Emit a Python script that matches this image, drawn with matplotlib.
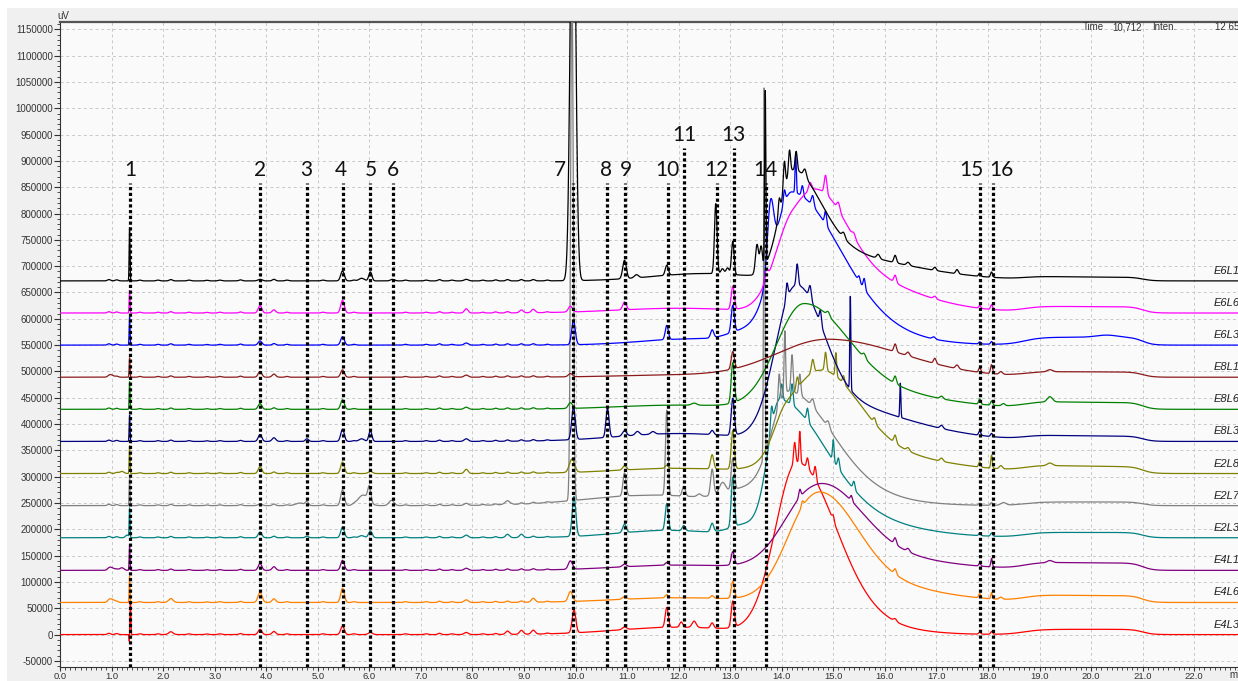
import numpy as np
import matplotlib.pyplot as plt
from matplotlib.patches import Rectangle
from matplotlib.ticker import MultipleLocator, FuncFormatter

# ---- chart data ----
names = ['E6L1', 'E6L6', 'E6L3', 'E8L1', 'E8L6', 'E8L3',
         'E2L8', 'E2L7', 'E2L3', 'E4L1', 'E4L6', 'E4L3']
colors = ['#000000', '#ff00ff', '#0000ff', '#8b1a1a', '#008000', '#000080',
          '#808000', '#808080', '#008080', '#800080', '#ff8000', '#ff0000']
offsets = [672000, 611000, 550000, 489000, 428000, 367000,
           306000, 245000, 184000, 122000, 61000, 0]

# broad hump after 13.6 min: (centre, height, sigma left, sigma right)
hump_fast = [(14.2, 150000, 0.25, 0.55), (14.7, 120000, 0.5, 0.55),
             (14.2, 200000, 0.3, 0.9), (14.9, 72000, 1.0, 1.45),
             (14.45, 140000, 0.55, 0.8), (14.3, 205000, 0.4, 0.5),
             (14.8, 130000, 0.6, 0.7), (14.15, 150000, 0.3, 0.8),
             (13.95, 190000, 0.22, 0.85), (14.8, 120000, 0.65, 0.75),
             (14.75, 150000, 0.55, 0.7), (14.3, 265000, 0.42, 0.72)]
hump_slow = [(14.3, 60000, 0.3, 1.8), (14.2, 120000, 0.35, 1.6),
             (14.0, 90000, 0.35, 1.4), (14.9, 0, 1.0, 1.0),
             (14.4, 60000, 0.5, 1.8), (14.2, 90000, 0.35, 1.8),
             (14.1, 70000, 0.25, 2.0), (14.0, 65000, 0.35, 1.3),
             (14.0, 70000, 0.25, 1.6), (14.5, 45000, 0.5, 1.8),
             (14.5, 60000, 0.5, 1.7), (14.3, 60000, 0.45, 1.2)]
# low plateau between ~19 and ~21 min
late_level = [7000, 12000, 15000, 10000, 13000, 10000,
              13000, 7000, 10000, 14000, 13000, 10000]

# tiny baseline bumps seen on most traces: time, height
ripple_times = [0.95, 1.1, 1.55, 1.9, 2.15, 2.5, 2.85, 3.1, 3.5, 4.15, 4.4,
                5.1, 5.7, 6.7, 7.1, 7.36, 7.6, 8.2, 8.45, 8.68, 8.95, 9.18, 9.45]
ripple_heights = [2500, 2000, 1500, 1500, 2500, 1500, 1200, 1500, 2000, 3000, 1500,
                  1500, 1500, 1500, 1500, 2500, 1500, 1500, 2000, 2500, 2500, 2500, 1500]

# peaks: (time, height, sigma)
peaks_E6L1 = [(1.35, 104000, 0.008), (3.88, 3000, 0.04), (5.48, 19000, 0.035),
              (5.85, 5000, 0.05), (6.02, 17000, 0.03), (6.45, 3000, 0.04),
              (7.88, 3000, 0.04), (9.95, 900000, 0.05), (12.5, 14000, 1.0),
              (10.95, 35000, 0.035), (11.18, 6000, 0.04), (11.77, 19000, 0.03),
              (12.72, 133000, 0.025), (12.85, 10000, 0.03), (12.95, 12000, 0.03),
              (13.05, 63000, 0.025), (13.52, 55000, 0.03), (13.6, 45000, 0.025),
              (13.68, 330000, 0.012), (13.95, 30000, 0.02), (14.05, 55000, 0.02),
              (14.15, 45000, 0.02), (14.28, 35000, 0.02), (14.45, 15000, 0.03),
              (15.2, 10000, 0.03), (15.87, 8000, 0.03), (16.2, 14000, 0.025),
              (16.45, 6000, 0.03), (16.97, 6000, 0.025), (17.4, 8000, 0.025),
              (17.84, 6000, 0.02), (18.07, 10000, 0.02)]
peaks_E6L6 = [(1.35, 44000, 0.008), (3.88, 14000, 0.035), (4.15, 3000, 0.04),
              (5.48, 24000, 0.035), (7.88, 8000, 0.035), (8.95, 3000, 0.04),
              (9.18, 4000, 0.04), (9.9, 11000, 0.04), (12.0, 9000, 1.2),
              (10.95, 15000, 0.035), (13.05, 44000, 0.03), (13.7, 20000, 0.03),
              (14.55, 15000, 0.03), (14.85, 35000, 0.025), (15.1, 15000, 0.03),
              (15.4, 8000, 0.03), (16.2, 14000, 0.025), (16.97, 5000, 0.03),
              (17.84, 5000, 0.02), (18.07, 9000, 0.02)]
peaks_E6L3 = [(1.35, 55000, 0.008), (3.88, 8000, 0.035), (5.48, 16000, 0.035),
              (7.88, 4000, 0.04), (9.96, 46000, 0.035), (12.3, 12000, 1.0),
              (13.2, 15000, 0.3), (11.77, 27000, 0.03), (12.65, 15000, 0.03),
              (13.05, 51000, 0.03), (13.78, 120000, 0.06), (14.05, 25000, 0.02),
              (14.27, 75000, 0.012), (14.4, 20000, 0.02), (14.6, 20000, 0.025),
              (14.85, 25000, 0.02), (15.5, 10000, 0.02), (15.6, 20000, 0.02),
              (16.95, 4000, 0.03), (17.84, 4000, 0.02), (18.07, 5000, 0.02),
              (20.3, 4000, 0.2)]
peaks_E8L1 = [(1.0, 4000, 0.04), (1.35, 38000, 0.008), (3.88, 11000, 0.035),
              (4.15, 3000, 0.04), (5.48, 14000, 0.035), (7.88, 4000, 0.04),
              (9.9, 6000, 0.04), (12.0, 4000, 1.2), (13.05, 33000, 0.03),
              (16.2, 15000, 0.025), (16.45, 7000, 0.03), (16.97, 10000, 0.025),
              (17.4, 7000, 0.03), (17.84, 9000, 0.02), (18.07, 17000, 0.02),
              (18.25, 5000, 0.03), (19.2, 4000, 0.05)]
peaks_E8L6 = [(1.35, 54000, 0.008), (3.88, 11000, 0.035), (5.48, 18000, 0.035),
              (7.88, 4000, 0.04), (9.9, 11000, 0.04), (12.0, 8000, 1.2),
              (12.3, 4000, 0.05), (13.05, 76000, 0.03), (14.9, 8000, 0.03),
              (15.6, 8000, 0.03), (16.2, 14000, 0.025), (17.1, 5000, 0.03),
              (17.84, 10000, 0.02), (18.07, 8000, 0.02), (18.3, 4000, 0.03),
              (19.2, 10000, 0.05)]
peaks_E8L3 = [(1.35, 51000, 0.008), (3.88, 13000, 0.035), (4.15, 4000, 0.04),
              (4.79, 5000, 0.03), (5.48, 23000, 0.035), (5.85, 5000, 0.05),
              (6.02, 20000, 0.03), (7.88, 5000, 0.04),
              (9.96, 61000, 0.035), (12.0, 15000, 1.2), (10.62, 55000, 0.03),
              (10.95, 10000, 0.04), (11.2, 7000, 0.04), (11.5, 5000, 0.04),
              (12.65, 8000, 0.03), (13.05, 70000, 0.03), (14.1, 30000, 0.02),
              (14.3, 40000, 0.02), (14.55, 25000, 0.025), (14.75, 25000, 0.02),
              (15.33, 180000, 0.01), (16.3, 65000, 0.01), (17.1, 6000, 0.03),
              (17.84, 8000, 0.02), (18.07, 6000, 0.02)]
peaks_E2L8 = [(1.2, 4000, 0.04), (1.35, 54000, 0.008), (3.88, 13000, 0.035),
              (5.48, 22000, 0.035), (6.02, 4000, 0.04),
              (7.88, 8000, 0.035), (9.93, 25000, 0.05), (12.0, 10000, 1.2),
              (10.95, 8000, 0.035), (11.77, 6000, 0.03), (12.65, 27000, 0.03),
              (13.05, 73000, 0.03), (14.3, 20000, 0.02), (14.6, 25000, 0.025),
              (14.85, 35000, 0.02), (15.05, 45000, 0.015), (15.2, 15000, 0.02),
              (15.8, 10000, 0.025), (16.2, 15000, 0.025), (16.45, 6000, 0.03),
              (17.1, 6000, 0.03), (17.84, 10000, 0.02), (18.07, 25000, 0.015),
              (18.25, 6000, 0.03), (19.2, 5000, 0.05)]
peaks_E2L7 = [(1.35, 54000, 0.008), (3.88, 3000, 0.04), (4.65, 5000, 0.08),
              (4.79, 7000, 0.03), (5.48, 30000, 0.035), (5.88, 20000, 0.1),
              (6.0, 28000, 0.03), (6.43, 10000, 0.05), (7.88, 4000, 0.04),
              (8.68, 5000, 0.06), (9.93, 1000000, 0.025), (11.5, 20000, 1.3),
              (13.2, 20000, 0.35), (10.95, 44000, 0.03), (11.77, 162000, 0.025),
              (12.1, 19000, 0.03), (12.4, 5000, 0.04), (12.65, 50000, 0.03),
              (12.85, 20000, 0.06), (13.05, 60000, 0.03), (13.66, 700000, 0.012),
              (13.95, 60000, 0.02), (14.06, 120000, 0.015), (14.2, 70000, 0.02),
              (14.35, 40000, 0.02), (14.6, 15000, 0.03), (14.9, 12000, 0.03),
              (17.84, 4000, 0.02), (18.07, 5000, 0.02), (18.3, 5000, 0.05)]
peaks_E2L3 = [(1.3, 5000, 0.03), (1.35, 57000, 0.008),
              (3.88, 11000, 0.035), (4.79, 3000, 0.03), (5.48, 20000, 0.035),
              (5.85, 4000, 0.05), (6.02, 13000, 0.035), (7.88, 5000, 0.04),
              (8.68, 4000, 0.04), (8.95, 4000, 0.04), (9.97, 76000, 0.035),
              (11.8, 14000, 1.0), (13.3, 20000, 0.3), (10.95, 16000, 0.035),
              (11.77, 51000, 0.03), (12.1, 10000, 0.03), (12.65, 16000, 0.03),
              (13.05, 95000, 0.03), (13.8, 40000, 0.02), (14.0, 30000, 0.02),
              (14.2, 40000, 0.02), (14.5, 25000, 0.02), (15.0, 40000, 0.015),
              (15.1, 20000, 0.02), (15.4, 15000, 0.02), (17.84, 5000, 0.02),
              (18.07, 6000, 0.02)]
peaks_E4L1 = [(1.0, 5000, 0.05), (1.2, 5000, 0.04), (1.35, 48000, 0.008),
              (3.88, 13000, 0.035), (4.15, 4000, 0.04), (5.48, 19000, 0.035),
              (7.88, 4000, 0.04), (9.9, 16000, 0.04), (12.0, 10000, 1.2),
              (10.95, 5000, 0.04), (11.77, 5000, 0.03), (13.05, 25000, 0.03),
              (14.35, 15000, 0.02), (15.35, 10000, 0.02), (16.2, 12000, 0.025),
              (16.45, 6000, 0.03), (17.84, 5000, 0.02), (18.07, 16000, 0.015),
              (19.2, 4000, 0.05)]
peaks_E4L6 = [(1.0, 6000, 0.05), (1.35, 51000, 0.008), (2.15, 5000, 0.05),
              (3.88, 19000, 0.04), (4.15, 4000, 0.04), (5.48, 27000, 0.035),
              (7.88, 5000, 0.04), (9.18, 5000, 0.04), (9.9, 19000, 0.04),
              (12.0, 9000, 1.2), (10.95, 5000, 0.04), (11.77, 6000, 0.03),
              (12.65, 5000, 0.03), (13.05, 32000, 0.03), (14.4, 10000, 0.02),
              (16.2, 10000, 0.025), (17.84, 8000, 0.02), (18.07, 12000, 0.015),
              (18.25, 4000, 0.03)]
peaks_E4L3 = [(1.345, -15000, 0.006), (1.365, 65000, 0.008), (2.15, 3000, 0.05),
              (3.88, 10000, 0.035), (4.15, 3000, 0.04), (5.48, 16000, 0.035),
              (6.02, 4000, 0.04), (7.88, 4000, 0.04), (8.68, 4000, 0.04),
              (8.95, 5000, 0.04), (9.18, 5000, 0.04), (9.97, 44000, 0.035),
              (12.0, 14000, 1.2), (10.95, 5000, 0.04), (11.77, 38000, 0.03),
              (12.05, 10000, 0.03), (12.3, 12000, 0.04), (12.65, 10000, 0.03),
              (13.05, 50000, 0.03), (14.25, 40000, 0.02), (14.35, 60000, 0.015),
              (14.5, 20000, 0.02), (14.65, 25000, 0.02), (15.0, 10000, 0.02),
              (16.2, 5000, 0.03), (17.84, 4000, 0.02), (18.07, 5000, 0.02)]

peak_lists = [peaks_E6L1, peaks_E6L6, peaks_E6L3, peaks_E8L1, peaks_E8L6, peaks_E8L3,
              peaks_E2L8, peaks_E2L7, peaks_E2L3, peaks_E4L1, peaks_E4L6, peaks_E4L3]

# numbered marker lines
marker_labels = ['1', '2', '3', '4', '5', '6', '7', '8', '9', '10',
                 '11', '12', '13', '14', '15', '16']
marker_times = [1.358, 3.88, 4.79, 5.48, 6.02, 6.45, 9.96, 10.62, 10.95, 11.79,
                12.10, 12.74, 13.07, 13.70, 17.85, 18.09]
marker_label_x = [1.36, 3.88, 4.77, 5.45, 6.03, 6.46, 9.70, 10.59, 10.98, 11.79,
                  12.12, 12.73, 13.07, 13.68, 17.67, 18.27]
marker_tall = ['11', '13']


def asym(t, c, h, sl, sr):
    s = np.where(t < c, sl, sr)
    return h * np.exp(-0.5 * ((t - c) / s) ** 2)


def trace(t, i):
    y = np.full_like(t, float(offsets[i]))
    y += asym(t, *hump_fast[i])
    y += asym(t, *hump_slow[i])
    y += late_level[i] * 0.5 * (1 + np.tanh((t - 18.7) / 0.35)) * 0.5 * (1 - np.tanh((t - 21.0) / 0.2))
    for c, h in zip(ripple_times, ripple_heights):
        y += h * np.exp(-0.5 * ((t - c) / 0.03) ** 2)
    for c, h, s in peak_lists[i]:
        y += h * np.exp(-0.5 * ((t - c) / s) ** 2)
    return y


W, H = 1238, 681
fig = plt.figure(figsize=(W / 100, H / 100), dpi=100)
fig.patch.set_facecolor('white')
fig.patches.append(Rectangle((7 / W, 0), 1, 1 - 8 / H, transform=fig.transFigure,
                             facecolor='#f0f0f0', edgecolor='none', zorder=-10))

ax = fig.add_axes([60 / W, (H - 667) / H, 1 - 60 / W, (667 - 22) / H])
ax.set_facecolor('#fafafa')
ax.set_xlim(0, 22.85)
ax.set_ylim(-61600, 1163900)

t = np.arange(0, 22.85, 0.004)
for i in range(len(names) - 1, -1, -1):
    ax.plot(t, trace(t, i), color=colors[i], lw=0.9, zorder=3 + (len(names) - i) * 0.01)
    ax.text(22.38, offsets[i] + 19000, names[i], fontsize=8, style='italic',
            family='Liberation Sans', color='#222222', va='center', ha='left', clip_on=False)

for lab, tm, lx in zip(marker_labels, marker_times, marker_label_x):
    top = 925000 if lab in marker_tall else 858000
    ax.plot([tm, tm], [-61600, top], color='black', lw=2.3,
            linestyle=(0, (1.0, 0.8)), solid_capstyle='butt', dash_capstyle='butt', zorder=5)
    ax.text(lx, top + 25000, lab, fontsize=15, family='Lato', color='#111111',
            ha='center', va='center', zorder=6)

# axes styling
ax.xaxis.set_major_locator(MultipleLocator(1.0))
ax.xaxis.set_minor_locator(MultipleLocator(0.1))
ax.yaxis.set_major_locator(MultipleLocator(50000))
ax.yaxis.set_minor_locator(MultipleLocator(10000))
ax.xaxis.set_major_formatter(FuncFormatter(lambda v, p: '%.1f' % v))
ax.yaxis.set_major_formatter(FuncFormatter(lambda v, p: '%d' % round(v)))
ax.tick_params(axis='y', which='major', labelsize=7, colors='#333333', direction='out',
               length=4, width=0.8, pad=1)
ax.tick_params(axis='x', which='major', labelsize=6.8, colors='#333333', direction='out',
               length=3, width=0.8, pad=0.3)
ax.tick_params(axis='both', which='minor', colors='#333333', direction='out', length=2, width=0.6)
for lbl in ax.get_xticklabels() + ax.get_yticklabels():
    lbl.set_family('Liberation Sans')
ax.grid(True, which='major', color='#c8c8c8', linestyle=(0, (3, 3)), lw=0.7)
ax.set_axisbelow(True)
ax.spines['right'].set_visible(False)
ax.spines['top'].set_color('#555555')
ax.spines['top'].set_linewidth(1.6)
ax.spines['left'].set_color('#333333')
ax.spines['bottom'].set_color('#333333')

fig.text(57 / W, 1 - 16 / H, 'uV', fontsize=7, family='Liberation Sans', color='#333333',
         ha='left', va='center')
fig.text(1229 / W, 1 - 675 / H, 'min', fontsize=7, family='Liberation Sans', color='#333333',
         ha='left', va='center')
fig.text(1083 / W, 1 - 27 / H, 'Time', fontsize=7, family='Liberation Sans', color='#333333',
         ha='left', va='center')
fig.text(1112 / W, 1 - 27 / H, '10,712', fontsize=7, family='Liberation Sans', color='#333333',
         ha='left', va='center')
fig.text(1152 / W, 1 - 27 / H, 'Inten.', fontsize=7, family='Liberation Sans', color='#333333',
         ha='left', va='center')
fig.text(1215 / W, 1 - 27 / H, '12 656', fontsize=7, family='Liberation Sans', color='#333333',
         ha='left', va='center')

fig.savefig('out.png', dpi=100)
